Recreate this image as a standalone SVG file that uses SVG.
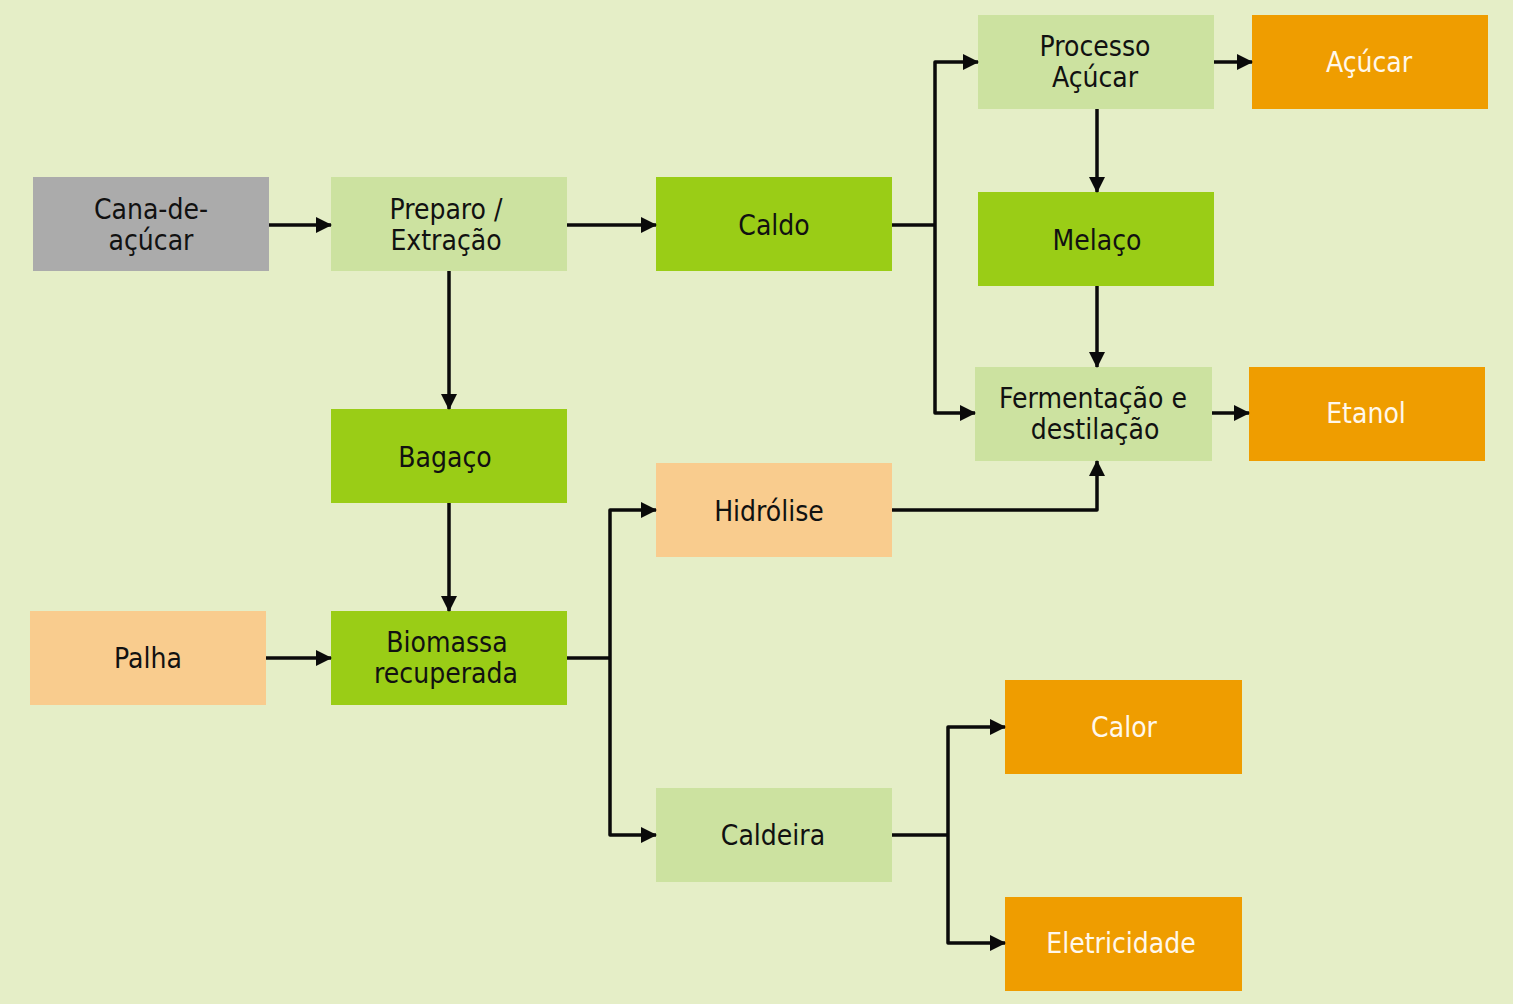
<svg xmlns="http://www.w3.org/2000/svg" width="1513" height="1004" viewBox="0 0 1513 1004">
<style>
.t{font-family:"DejaVu Sans Condensed","DejaVu Sans",sans-serif;font-size:28px;fill:#111;text-anchor:middle;dominant-baseline:central}
.w{fill:#FFF8EC}
.gray{fill:#ABABAB}.lg{fill:#CCE2A0}.g{fill:#9ACD16}.o{fill:#EF9D00}.p{fill:#F9CC8E}
.c{fill:none;stroke:#0A0A0A;stroke-width:3.5;stroke-linejoin:round}
</style>
<defs>
<marker id="a" viewBox="0 0 16 16" refX="15" refY="8" markerWidth="16" markerHeight="16" markerUnits="userSpaceOnUse" orient="auto">
<path d="M0,0 L16,8 L0,16 Z" fill="#0A0A0A"/>
</marker>
</defs>
<rect width="1513" height="1004" fill="#E5EEC7"/>
<g id="cana"><rect class="gray" x="33" y="177" width="236" height="94"/><text class="t" x="151" y="209">Cana-de-</text><text class="t" x="151" y="240">açúcar</text></g>
<g id="preparo"><rect class="lg" x="331" y="177" width="236" height="94"/><text class="t" x="446" y="209">Preparo /</text><text class="t" x="446" y="240">Extração</text></g>
<g id="caldo"><rect class="g" x="656" y="177" width="236" height="94"/><text class="t" x="774" y="225">Caldo</text></g>
<g id="processo"><rect class="lg" x="978" y="15" width="236" height="94"/><text class="t" x="1095" y="46">Processo</text><text class="t" x="1095" y="77">Açúcar</text></g>
<g id="acucar"><rect class="o" x="1252" y="15" width="236" height="94"/><text class="t w" x="1369" y="62">Açúcar</text></g>
<g id="melaco"><rect class="g" x="978" y="192" width="236" height="94"/><text class="t" x="1097" y="240">Melaço</text></g>
<g id="fermentacao"><rect class="lg" x="975" y="367" width="237" height="94"/><text class="t" x="1093" y="398">Fermentação e</text><text class="t" x="1095" y="429">destilação</text></g>
<g id="etanol"><rect class="o" x="1249" y="367" width="236" height="94"/><text class="t w" x="1366" y="413">Etanol</text></g>
<g id="bagaco"><rect class="g" x="331" y="409" width="236" height="94"/><text class="t" x="445" y="457">Bagaço</text></g>
<g id="hidrolise"><rect class="p" x="656" y="463" width="236" height="94"/><text class="t" x="769" y="511">Hidrólise</text></g>
<g id="palha"><rect class="p" x="30" y="611" width="236" height="94"/><text class="t" x="148" y="658">Palha</text></g>
<g id="biomassa"><rect class="g" x="331" y="611" width="236" height="94"/><text class="t" x="447" y="642">Biomassa</text><text class="t" x="446" y="673">recuperada</text></g>
<g id="calor"><rect class="o" x="1005" y="680" width="237" height="94"/><text class="t w" x="1124" y="727">Calor</text></g>
<g id="caldeira"><rect class="lg" x="656" y="788" width="236" height="94"/><text class="t" x="773" y="835">Caldeira</text></g>
<g id="eletricidade"><rect class="o" x="1005" y="897" width="237" height="94"/><text class="t w" x="1121" y="943">Eletricidade</text></g>
<g id="connectors">
<path class="c" d="M269,225 H331" marker-end="url(#a)"/>
<path class="c" d="M567,225 H656" marker-end="url(#a)"/>
<path class="c" d="M449,271 V409" marker-end="url(#a)"/>
<path class="c" d="M449,503 V611" marker-end="url(#a)"/>
<path class="c" d="M266,658 H331" marker-end="url(#a)"/>
<path class="c" d="M567,658 H610"/>
<path class="c" d="M610,658 V510 H656" marker-end="url(#a)"/>
<path class="c" d="M610,658 V835 H656" marker-end="url(#a)"/>
<path class="c" d="M892,225 H935"/>
<path class="c" d="M935,225 V62 H978" marker-end="url(#a)"/>
<path class="c" d="M935,225 V413 H975" marker-end="url(#a)"/>
<path class="c" d="M1214,62 H1252" marker-end="url(#a)"/>
<path class="c" d="M1097,109 V192" marker-end="url(#a)"/>
<path class="c" d="M1097,286 V367" marker-end="url(#a)"/>
<path class="c" d="M1212,413 H1249" marker-end="url(#a)"/>
<path class="c" d="M892,510 H1097 V461" marker-end="url(#a)"/>
<path class="c" d="M892,835 H948"/>
<path class="c" d="M948,835 V727 H1005" marker-end="url(#a)"/>
<path class="c" d="M948,835 V943 H1005" marker-end="url(#a)"/>
</g>
</svg>
